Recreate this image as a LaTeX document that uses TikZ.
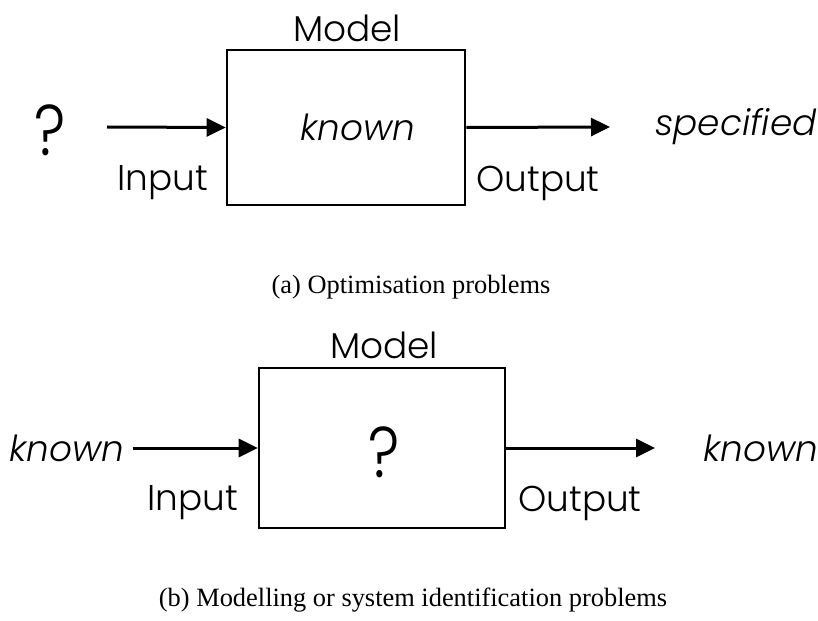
\documentclass[tikz,border=0pt]{standalone}
\usepackage{fontspec}
\setmainfont{Liberation Serif}
\newfontfamily\geofont{Poppins}[UprightFont={* Light}, ItalicFont={* Light Italic}]
\usetikzlibrary{arrows.meta}
\newcommand{\bigq}{\scalebox{0.85}[1]{?}}
\begin{document}
\begin{tikzpicture}[x=1bp,y=-1bp,
  lbl/.style={font=\geofont\fontsize{36}{42}\selectfont, inner sep=0pt},
  ilbl/.style={font=\geofont\itshape\fontsize{36}{42}\selectfont, inner sep=0pt},
  qmark/.style={font=\geofont\fontsize{72}{80}\selectfont, inner sep=0pt},
  captext/.style={font=\fontsize{26.5}{30}\selectfont, inner sep=0pt},
  modelbox/.style={draw, line width=2.6bp, inner sep=0pt},
  flow/.style={line width=3bp, -{Triangle[length=19bp,width=18bp]}}]
\useasboundingbox (0,0) rectangle (818,621);

% (a) optimisation problem
\node[modelbox, minimum width=238bp, minimum height=155bp] (boxa) at (346,127.5) {};
\node[lbl] (modela) at (347,28) {Model};
\node[ilbl] (knowna) at (358,127) {known};
\node[qmark] (qa) at (50,130) {\bigq};
\node[lbl] (ina) at (163,183) {Input};
\node[lbl] (outa) at (538,183) {Output};
\node[ilbl] (speca) at (736,127) {specified};
\coordinate (ina0) at (107,127);
\coordinate (outa1) at (610,127);
\draw[flow] (ina0) -- (boxa.west);
\draw[flow] (boxa.east) -- (outa1);
\node[captext] (capa) at (411,287) {(a) Optimisation problems};

% (b) modelling / system identification problem
\node[modelbox, minimum width=246bp, minimum height=160bp] (boxb) at (382,448) {};
\node[lbl] (modelb) at (384,345) {Model};
\node[qmark] (qb) at (384,452) {\bigq};
\node[ilbl] (knownb1) at (67,448) {known};
\node[lbl] (inb) at (193,503) {Input};
\node[lbl] (outb) at (580,503) {Output};
\node[ilbl] (knownb2) at (761,448) {known};
\draw[flow] (knownb1.east) ++(8,0) coordinate (inb0) -- (inb0 -| boxb.west);
\coordinate (outb1) at (655,448);
\draw[flow] (boxb.east) -- (outb1);
\node[captext] (capb) at (413,600) {(b) Modelling or system identification problems};
\end{tikzpicture}
\end{document}
